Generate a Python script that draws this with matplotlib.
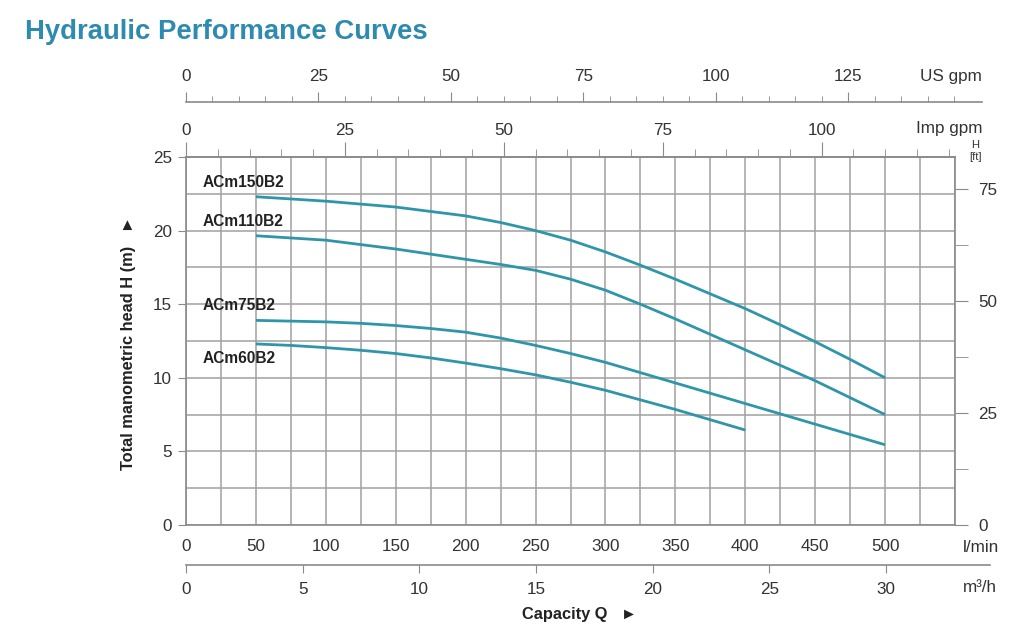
import numpy as np
import matplotlib
matplotlib.use("Agg")
import matplotlib.pyplot as plt
from matplotlib.ticker import MultipleLocator, FixedLocator

plt.rcParams['font.family'] = ['Liberation Sans', 'DejaVu Sans']

# unit conversions (from l/min)
IMP_GPM = 4.54609
US_GPM = 3.78541
M3H = 1000.0 / 60.0
FT = 0.3048

# curves: capacity (l/min) vs head (m)
q_acm150 = [50, 75, 100, 125, 150, 175, 200, 225, 250, 275, 300, 325, 350, 375, 400, 425, 450, 475, 500]
h_acm150 = [22.3, 22.15, 22.0, 21.8, 21.6, 21.3, 21.0, 20.55, 20.0, 19.35, 18.55, 17.65, 16.7, 15.7,
            14.7, 13.6, 12.45, 11.25, 10.0]
q_acm110 = [50, 75, 100, 125, 150, 175, 200, 225, 250, 275, 300, 325, 350, 375, 400, 425, 450, 475, 500]
h_acm110 = [19.65, 19.5, 19.35, 19.05, 18.75, 18.4, 18.05, 17.7, 17.3, 16.7, 15.95, 15.0, 14.0, 12.95,
            11.9, 10.85, 9.8, 8.65, 7.5]
q_acm75 = [50, 75, 100, 125, 150, 175, 200, 225, 250, 275, 300, 325, 350, 375, 400, 425, 450, 475, 500]
h_acm75 = [13.9, 13.85, 13.8, 13.7, 13.55, 13.35, 13.1, 12.7, 12.2, 11.65, 11.05, 10.35, 9.65, 8.95,
           8.25, 7.55, 6.85, 6.15, 5.45]
q_acm60 = [50, 75, 100, 125, 150, 175, 200, 225, 250, 275, 300, 325, 350, 375, 400]
h_acm60 = [12.3, 12.2, 12.05, 11.87, 11.65, 11.35, 11.0, 10.62, 10.2, 9.7, 9.15, 8.5, 7.85, 7.15, 6.45]

models = ['ACm150B2', 'ACm110B2', 'ACm75B2', 'ACm60B2']
label_y = [23.3, 20.6, 14.9, 11.3]

curve_color = '#2f96aa'
grid_color = '#a0a0a0'
axis_color = '#8a8a8a'
text_color = '#333333'
tick_fs = 12.3

W, H = 1024, 630
fig = plt.figure(figsize=(W / 100, H / 100), dpi=100)

def fx(px):
    return px / W

def fy(py):
    return 1 - py / H

x0, x1, ytop, ybot = 186, 955, 157, 525
ax = fig.add_axes([fx(x0), fy(ybot), fx(x1 - x0), (ybot - ytop) / H])
ax.set_xlim(0, 550)
ax.set_ylim(0, 25)

ax.xaxis.set_major_locator(FixedLocator(np.arange(0, 501, 50)))
ax.xaxis.set_minor_locator(MultipleLocator(25))
ax.yaxis.set_major_locator(MultipleLocator(5))
ax.yaxis.set_minor_locator(MultipleLocator(2.5))
ax.grid(which='both', color=grid_color, linewidth=1.1)
ax.set_axisbelow(True)
for s in ax.spines.values():
    s.set_color(axis_color)
    s.set_linewidth(1.2)
ax.tick_params(axis='x', which='both', length=0, pad=10, labelsize=tick_fs, labelcolor=text_color)
ax.tick_params(axis='y', which='major', length=6, pad=4, labelsize=tick_fs, labelcolor=text_color, color=axis_color)
ax.tick_params(axis='y', which='minor', length=0)

for q, h in [(q_acm150, h_acm150), (q_acm110, h_acm110), (q_acm75, h_acm75), (q_acm60, h_acm60)]:
    ax.plot(q, h, color=curve_color, linewidth=2.0, solid_capstyle='butt', solid_joinstyle='round')

for name, yy in zip(models, label_y):
    ax.text(12, yy, name, fontsize=11.2, fontweight='bold', color='#222222', va='center', ha='left')

# right axis in feet
axr = ax.twinx()
axr.set_ylim(0, 25 / FT)
axr.yaxis.set_major_locator(FixedLocator([0, 25, 50, 75]))
axr.yaxis.set_minor_locator(FixedLocator([12.5, 37.5, 62.5]))
axr.tick_params(axis='y', which='both', length=9, direction='out', pad=8, labelsize=tick_fs,
                labelcolor=text_color, color=axis_color)
for s in axr.spines.values():
    s.set_visible(False)

# Imp gpm on the top border
sec = ax.secondary_xaxis('top', functions=(lambda q: q / IMP_GPM, lambda g: g * IMP_GPM))
sec.xaxis.set_major_locator(FixedLocator(np.arange(0, 101, 25)))
sec.xaxis.set_minor_locator(FixedLocator(np.arange(0, 121, 5)))
sec.tick_params(which='major', length=11, pad=3, labelsize=tick_fs, labelcolor=text_color, color=axis_color)
sec.tick_params(which='minor', length=5.5, color=axis_color)
sec.spines['top'].set_color(axis_color)
sec.spines['top'].set_linewidth(1.2)

# US gpm on a separate line
us_right = 982
ax_us = fig.add_axes([fx(x0), fy(102), fx(us_right - x0), 0.0001])
ax_us.set_xlim(0, (us_right - x0) / 1.4 / US_GPM)
ax_us.set_yticks([])
for k in ['left', 'right', 'bottom']:
    ax_us.spines[k].set_visible(False)
ax_us.spines['top'].set_color(axis_color)
ax_us.spines['top'].set_linewidth(1.2)
ax_us.xaxis.tick_top()
ax_us.xaxis.set_major_locator(FixedLocator(np.arange(0, 126, 25)))
ax_us.xaxis.set_minor_locator(FixedLocator(np.arange(0, 146, 5)))
ax_us.tick_params(which='major', length=7, pad=6, labelsize=tick_fs, labelcolor=text_color, color=axis_color)
ax_us.tick_params(which='minor', length=4, color=axis_color)
ax_us.patch.set_visible(False)

# m3/h on a separate line below
m3_right = 990
ax_m3 = fig.add_axes([fx(x0), fy(565), fx(m3_right - x0), 0.0001])
ax_m3.set_xlim(0, (m3_right - x0) / 1.4 / M3H)
ax_m3.set_yticks([])
for k in ['left', 'right', 'top']:
    ax_m3.spines[k].set_visible(False)
ax_m3.spines['bottom'].set_color(axis_color)
ax_m3.spines['bottom'].set_linewidth(1.2)
ax_m3.xaxis.set_major_locator(FixedLocator(np.arange(0, 31, 5)))
ax_m3.tick_params(which='major', length=6, pad=6, labelsize=tick_fs, labelcolor=text_color, color=axis_color)
ax_m3.patch.set_visible(False)

# unit labels and titles
fig.text(fx(982), fy(77), 'US gpm', fontsize=tick_fs, color=text_color, ha='right', va='center')
fig.text(fx(982), fy(129), 'Imp gpm', fontsize=tick_fs, color=text_color, ha='right', va='center')
fig.text(fx(975), fy(145), 'H', fontsize=8, color=text_color, ha='center', va='center')
fig.text(fx(975), fy(157), '[ft]', fontsize=8, color=text_color, ha='center', va='center')
fig.text(fx(999), fy(548), 'l/min', fontsize=tick_fs, color=text_color, ha='right', va='center')
fig.text(fx(997), fy(588), 'm\u00b3/h', fontsize=tick_fs, color=text_color, ha='right', va='center')
fig.text(fx(580), fy(614), 'Capacity Q   \u25ba', fontsize=11.8, fontweight='bold', color='#222222',
         ha='center', va='center')
fig.text(fx(128), fy(343), 'Total manometric head H (m)   \u25ba', fontsize=11.8, fontweight='bold',
         color='#222222', ha='center', va='center', rotation=90)
fig.text(fx(25), fy(32), 'Hydraulic Performance Curves', fontsize=19.8, fontweight='bold',
         color='#2f8ab0', ha='left', va='center')

fig.savefig('out.png', dpi=100)
